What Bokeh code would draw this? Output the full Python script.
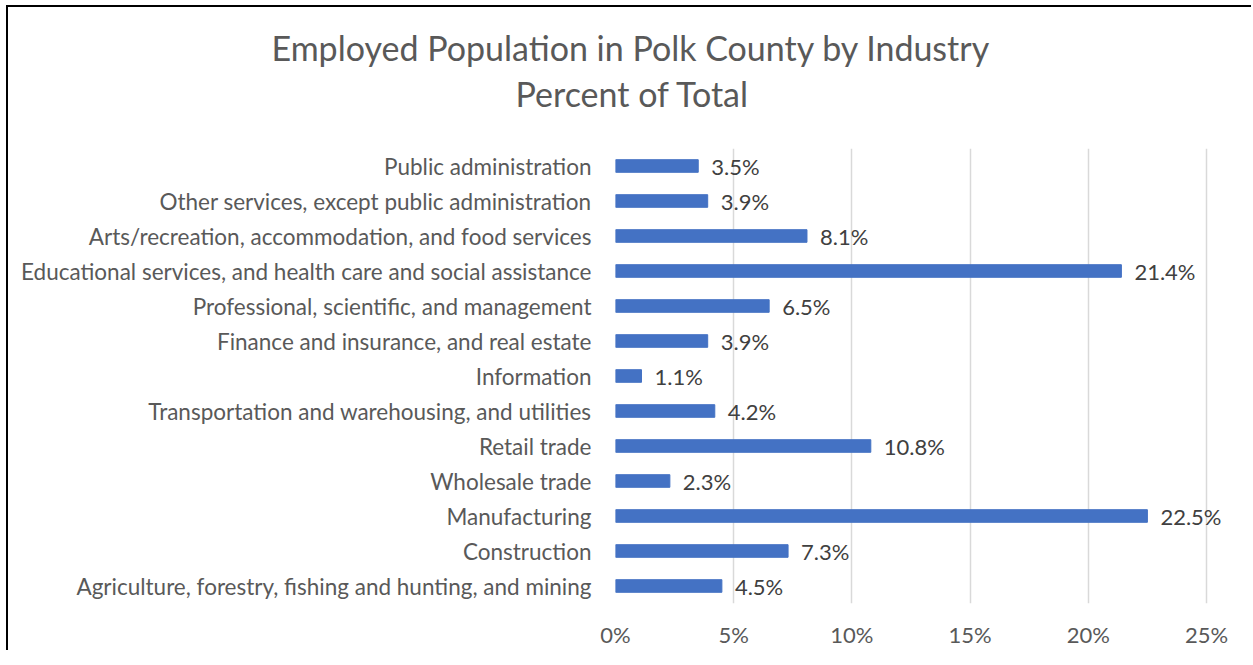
from bokeh.plotting import figure
from bokeh.models import ColumnDataSource, FactorRange, Range1d, FixedTicker, Title, LabelSet
from bokeh.core.properties import value
from bokeh.embed import file_html
from bokeh.resources import INLINE

# Data (bottom to top)
categories = [
    "Agriculture, forestry, fishing and hunting, and mining",
    "Construction",
    "Manufacturing",
    "Wholesale trade",
    "Retail trade",
    "Transportation and warehousing, and utilities",
    "Information",
    "Finance and insurance, and real estate",
    "Professional, scientific, and management",
    "Educational services, and health care and social assistance",
    "Arts/recreation, accommodation, and food services",
    "Other services, except public administration",
    "Public administration",
]
percent = [4.5, 7.3, 22.5, 2.3, 10.8, 4.2, 1.1, 3.9, 6.5, 21.4, 8.1, 3.9, 3.5]
tick_values = [0, 5, 10, 15, 20, 25]
tick_labels = ["0%", "5%", "10%", "15%", "20%", "25%"]
title_line1 = "Employed Population in Polk County by Industry"
title_line2 = "Percent of Total"

FONT = "Lato"
TEXT = "#595959"

# frame: 0..25 spans 591 px; extend frame to the right so the last label is not clipped
AXIS_MAX = 25
FRAME_W = 591
FRAME_W_EXT = 621
x_end = AXIS_MAX * FRAME_W_EXT / FRAME_W

source = ColumnDataSource(dict(
    cat=categories,
    val=percent,
    lbl=[f"{v:.1f}%" for v in percent],
))

p = figure(
    width=1245, height=645,
    y_range=FactorRange(factors=categories, range_padding=0),
    x_range=Range1d(0, x_end),
    output_backend="svg", toolbar_location=None,
    min_border_left=607, min_border_right=1245 - 607 - FRAME_W_EXT,
    min_border_top=141, min_border_bottom=49,
)
p.styles = {
    "border-left": "2px solid #000",
    "border-top": "2px solid #000",
    "margin-left": "6px",
    "margin-top": "5px",
}

p.hbar(y="cat", right="val", left=0, height=0.36, source=source,
       fill_color="#4472C4", line_color="#4472C4")
labels = LabelSet(x="val", y="cat", text="lbl", source=source, x_offset=13,
                  text_baseline="middle", text_align="left", text_font_size="22px",
                  text_font=value(FONT), text_color="#404040")
p.add_layout(labels)

p.title.visible = False
spacer = Title(text=" ", text_font_size="1px", standoff=29)
t2 = Title(text=title_line2, align="left", offset=-100, text_font=FONT,
           text_font_size="34px", text_font_style="normal", text_color=TEXT,
           standoff=6)
t1 = Title(text=title_line1, align="left", offset=-344, text_font=FONT,
           text_font_size="34px", text_font_style="normal", text_color=TEXT,
           standoff=0)
p.add_layout(spacer, "above")
p.add_layout(t2, "above")
p.add_layout(t1, "above")

p.xaxis.ticker = FixedTicker(ticks=tick_values)
p.xaxis.major_label_overrides = {t: l for t, l in zip(tick_values, tick_labels)}
for ax in (p.xaxis, p.yaxis):
    ax.axis_line_color = None
    ax.major_tick_line_color = None
    ax.minor_tick_line_color = None
    ax.major_tick_out = 0
    ax.major_tick_in = 0
    ax.major_label_text_font = FONT
    ax.major_label_text_color = TEXT
p.xaxis.major_label_text_font_size = "22px"
p.yaxis.major_label_text_font_size = "22.5px"
p.xaxis.major_label_standoff = 17
p.yaxis.major_label_standoff = 24

p.xgrid.grid_line_color = "#D9D9D9"
p.xgrid.grid_line_width = 1.5
p.ygrid.grid_line_color = None
p.outline_line_color = None

open("out.html", "w").write(file_html(p, INLINE))
